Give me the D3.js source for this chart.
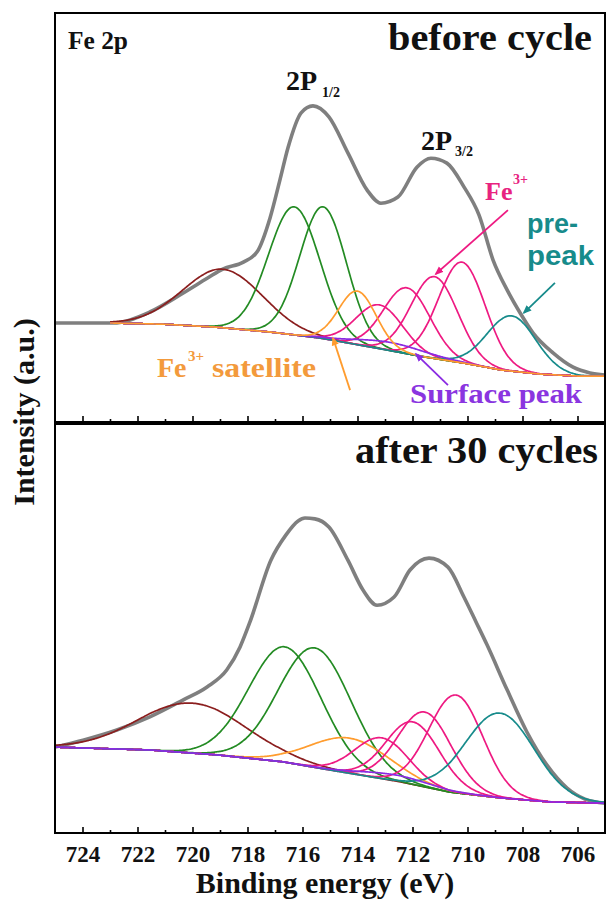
<!DOCTYPE html>
<html>
<head>
<meta charset="utf-8">
<script src="https://cdn.jsdelivr.net/npm/d3@7"></script>
<style>
  body { margin: 0; background: #fff; }
  svg { display: block; }
  .serif { font-family: "Liberation Serif", "Times New Roman", serif; font-weight: bold; }
  .sans { font-family: "Liberation Sans", Arial, sans-serif; font-weight: bold; }
</style>
</head>
<body>
<svg id="chart" width="606" height="901"></svg>
<script>
// Fe 2p XPS spectra before and after cycling: measured envelope,
// Shirley-type background and the fitted Gaussian components.

const majorTicks = [724, 722, 720, 718, 716, 714, 712, 710, 708, 706];
const minorTicks = [723, 721, 719, 717, 715, 713, 711, 709, 707];

// component order: Fe2+ satellite, two Fe2+ 2p peaks, Fe3+ satellite,
// four Fe3+ multiplet peaks, pre-peak, surface peak
const componentKeys = ["sat", "fe2a", "fe2b", "fe3sat", "fe3a", "fe3b", "fe3c", "fe3d", "pre", "surf"];

// ---- before cycle ----
const beforeEnvE = [725.0, 724.0, 722.9, 721.55, 720.35, 719.45, 718.9, 718.15, 717.65, 717.18, 716.82, 716.53, 716.05, 715.62, 715.04, 714.35, 713.65, 713.15, 712.53, 711.84, 711.33, 710.75, 710.13, 709.58, 709.07, 708.56, 708.09, 707.62, 706.89, 706.16, 705.55, 705.0];
const beforeEnvI = [24.2, 24.2, 24.2, 26.9, 31.5, 35.2, 37.4, 39.1, 41.6, 49.9, 59.2, 67.0, 75.6, 77.3, 74.6, 65.8, 56.7, 53.5, 55.0, 62.3, 64.5, 63.3, 57.5, 50.6, 39.6, 32.3, 26.7, 21.8, 16.9, 13.4, 12.0, 11.5];
const beforeBgE = [725.0, 722.9, 721.0, 719.15, 717.18, 715.33, 712.93, 711.55, 710.13, 708.75, 707.33, 705.91, 705.0];
const beforeBgI = [24.2, 24.2, 23.9, 23.2, 22.0, 20.5, 17.6, 15.9, 14.4, 12.7, 11.7, 11.2, 11.2];
const beforeCenter = [718.9, 716.3, 715.25, 714.0, 713.2, 712.2, 711.2, 710.2, 708.4, 712.8];
const beforeHeight = [14.3, 31.3, 32.2, 13.1, 10.7, 16.1, 20.0, 24.6, 13.5, 2.0];
const beforeFwhm = [3.4, 2.2, 2.0, 1.6, 2.0, 2.0, 2.0, 2.0, 2.1, 3.0];

// ---- after 30 cycles ----
const afterEnvE = [725.0, 723.98, 722.75, 721.55, 720.35, 719.47, 718.75, 718.27, 717.91, 717.15, 716.6, 716.16, 715.91, 715.55, 715.04, 714.35, 713.8, 713.29, 712.67, 712.09, 711.4, 710.71, 710.13, 709.69, 709.29, 708.56, 707.84, 707.11, 706.38, 705.73, 705.0];
const afterEnvI = [21.0, 22.7, 25.2, 28.4, 32.5, 35.7, 39.9, 45.5, 51.6, 66.7, 72.9, 76.3, 77.0, 76.8, 74.8, 66.7, 59.4, 55.7, 57.7, 64.3, 67.2, 65.0, 57.7, 51.6, 46.0, 35.0, 24.7, 16.6, 11.0, 8.3, 7.3];
const afterBgE = [725.0, 721.55, 719.11, 716.71, 715.0, 712.45, 710.64, 708.82, 707.0, 705.0];
const afterBgI = [21.0, 20.3, 19.1, 17.4, 15.4, 12.5, 10.0, 8.6, 7.6, 7.3];
const afterCenter = [720.0, 716.64, 715.55, 714.27, 713.11, 711.98, 711.55, 710.42, 708.82, 712.6];
const afterHeight = [12.2, 28.2, 29.2, 8.6, 10.0, 15.3, 18.3, 23.9, 20.7, 1.5];
const afterFwhm = [4.6, 3.1, 3.1, 3.4, 2.3, 2.3, 2.3, 2.3, 2.95, 3.0];

// annotation arrows of the upper panel, [energy, intensity] pairs
const arrowKeys = ["fe3d", "pre", "fe3sat", "surf"];
const arrowFrom = [[708.53, 51.8], [706.82, 34.0], [714.27, 7.8], [710.71, 9.0]];
const arrowTo   = [[711.15, 36.2], [707.95, 26.7], [714.89, 20.5], [711.87, 16.6]];

// ---- styling ----
const colorOf = {
  sat: "#8b1e1e", fe2a: "#238b23", fe2b: "#238b23", fe3sat: "#ff9c2e",
  fe3a: "#ee1a82", fe3b: "#ee1a82", fe3c: "#ee1a82", fe3d: "#ee1a82",
  pre: "#178b8b", surf: "#8a2be2"
};
const envelopeColor = "#7f7f7f";

const left = 55, right = 605;
const svg = d3.select("#chart");

const x = d3.scaleLinear().domain([725, 705]).range([left, right]);

const panels = [
  {
    top: 13, bottom: 422, startE: 723,
    envE: beforeEnvE, envI: beforeEnvI, bgE: beforeBgE, bgI: beforeBgI,
    center: beforeCenter, height: beforeHeight, fwhm: beforeFwhm,
    order: [0, 1, 2, 4, 5, 6, 7, 8, 9, 3], labels: false
  },
  {
    top: 424, bottom: 833, startE: 725,
    envE: afterEnvE, envI: afterEnvI, bgE: afterBgE, bgI: afterBgI,
    center: afterCenter, height: afterHeight, fwhm: afterFwhm,
    order: [0, 1, 2, 3, 4, 5, 6, 7, 8, 9], labels: true
  }
];

const LN4 = 4 * Math.LN2;

panels.forEach(p => {
  const y = d3.scaleLinear().domain([0, 100]).range([p.bottom, p.top]);
  p.y = y;
  const g = svg.append("g");
  const clipId = "clip" + p.top;
  svg.append("clipPath").attr("id", clipId)
    .append("rect").attr("x", left).attr("y", p.top).attr("width", right - left).attr("height", p.bottom - p.top);

  const plot = g.append("g").attr("clip-path", `url(#${clipId})`);

  // background as a piecewise scale through the read points
  const bg = d3.scaleLinear().domain(p.bgE).range(p.bgI).clamp(true);

  // measured envelope
  const env = p.envE.map((e, i) => [e, p.envI[i]]);
  plot.append("path")
    .datum(env)
    .attr("fill", "none")
    .attr("stroke", envelopeColor)
    .attr("stroke-width", 3.6)
    .attr("stroke-linejoin", "round")
    .attr("d", d3.line().x(d => x(d[0])).y(d => y(d[1])).curve(d3.curveMonotoneX));

  // fitted components on top of the background
  const energies = d3.range(p.startE, 704.99, -0.05);
  const line = d3.line().x(d => x(d[0])).y(d => y(d[1])).curve(d3.curveMonotoneX);
  p.order.forEach(k => {
    const c = p.center[k], h = p.height[k], w = p.fwhm[k];
    const pts = energies.map(e => [e, bg(e) + h * Math.exp(-LN4 * ((e - c) / w) ** 2)]);
    plot.append("path")
      .datum(pts)
      .attr("fill", "none")
      .attr("stroke", colorOf[componentKeys[k]])
      .attr("stroke-width", 1.7)
      .attr("d", line);
  });

  // frame
  g.append("rect")
    .attr("x", left).attr("y", p.top)
    .attr("width", right - left).attr("height", p.bottom - p.top)
    .attr("fill", "none").attr("stroke", "#000").attr("stroke-width", 2);

  // inward ticks on the energy axis
  const major = d3.axisTop(x).tickValues(majorTicks).tickSizeInner(6).tickSizeOuter(0).tickFormat("");
  const minor = d3.axisTop(x).tickValues(minorTicks).tickSizeInner(3).tickSizeOuter(0).tickFormat("");
  [major, minor].forEach(ax => {
    const a = g.append("g").attr("transform", `translate(0,${p.bottom})`).call(ax);
    a.select(".domain").remove();
    a.selectAll("line").attr("stroke", "#000").attr("stroke-width", 1.6);
  });

  if (p.labels) {
    const lab = g.append("g")
      .attr("transform", `translate(0,${p.bottom})`)
      .call(d3.axisBottom(x).tickValues(majorTicks).tickSize(0).tickPadding(13).tickFormat(d3.format("d")));
    lab.select(".domain").remove();
    lab.selectAll("text")
      .attr("class", "serif")
      .attr("font-size", 23)
      .attr("fill", "#111");
  }
});

// ---- arrows ----
const defs = svg.append("defs");
const yTop = panels[0].y;
arrowKeys.forEach((k, i) => {
  defs.append("marker")
    .attr("id", "head-" + k)
    .attr("viewBox", "0 0 10 10")
    .attr("refX", 8).attr("refY", 5)
    .attr("markerUnits", "userSpaceOnUse")
    .attr("markerWidth", 9).attr("markerHeight", 9)
    .attr("orient", "auto")
    .append("path").attr("d", "M0,1 L10,5 L0,9 Z").attr("fill", colorOf[k]);
  svg.append("line")
    .attr("x1", x(arrowFrom[i][0])).attr("y1", yTop(arrowFrom[i][1]))
    .attr("x2", x(arrowTo[i][0])).attr("y2", yTop(arrowTo[i][1]))
    .attr("stroke", colorOf[k]).attr("stroke-width", 1.8)
    .attr("marker-end", `url(#head-${k})`);
});

// ---- text ----
function label(txt, px, py, size, opts = {}) {
  const t = svg.append("text")
    .attr("class", opts.sans ? "sans" : "serif")
    .attr("x", px).attr("y", py)
    .attr("font-size", size)
    .attr("fill", opts.fill || "#111")
    .attr("text-anchor", opts.anchor || "start")
    .text(txt);
  if (opts.len) t.attr("textLength", opts.len).attr("lengthAdjust", "spacingAndGlyphs");
  return t;
}

label("Fe 2p", 68, 49, 25, { len: 60 });
label("before cycle", 592, 50, 37, { anchor: "end", len: 204 });
label("2P", 286, 90, 28);
label("1/2", 322, 97, 14);
label("2P", 421, 150, 28);
label("3/2", 455, 156, 14);
label("Fe", 485, 200, 26, { fill: "#e8237f" });
label("3+", 513, 184, 14, { fill: "#e8237f" });
label("pre-", 527, 233, 27, { sans: true, fill: "#178b8b" });
label("peak", 527, 265, 27, { sans: true, fill: "#178b8b", len: 67 });
label("Fe", 157, 377, 28, { fill: "#f39a3c" });
label("3+", 188, 361, 15, { fill: "#f39a3c" });
label("satellite", 212, 377, 28, { fill: "#f39a3c", len: 104 });
label("Surface peak", 410, 403, 28, { fill: "#8a35e0", len: 172 });
label("after 30 cycles", 598, 463, 37, { anchor: "end", len: 243 });

label("Binding energy (eV)", 325, 893, 30, { anchor: "middle" });
svg.append("text")
  .attr("class", "serif")
  .attr("transform", "translate(34,412) rotate(-90)")
  .attr("text-anchor", "middle")
  .attr("font-size", 30)
  .attr("fill", "#111")
  .text("Intensity (a.u.)");
</script>
</body>
</html>
